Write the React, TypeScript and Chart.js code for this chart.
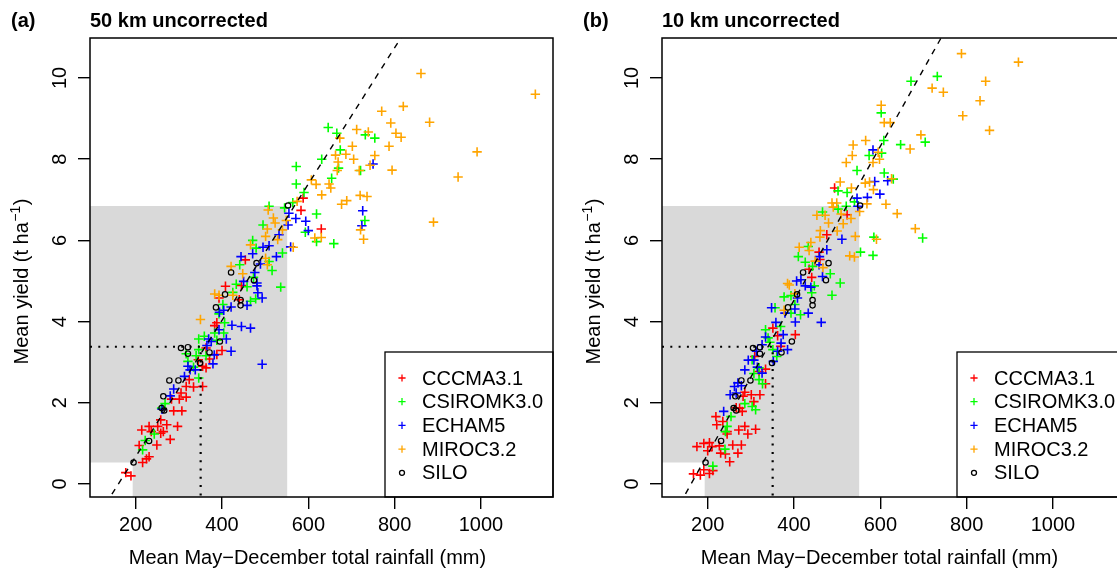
import React, { useEffect, useRef } from "react";
import { Chart, registerables } from "chart.js";

Chart.register(...registerables);

const FONT = '"Liberation Sans", Arial, Helvetica, sans-serif';

// ---------- axes ----------
const xTicks = [200, 400, 600, 800, 1000];
const yTicks = [0, 2, 4, 6, 8, 10];
const xLimits = [94.1, 1166.9];
const yLimits = [-0.32, 10.985];

const seriesNames = ["CCCMA3.1", "CSIROMK3.0", "ECHAM5", "MIROC3.2", "SILO"];
const seriesColors = ["#FF0000", "#00FF00", "#0000FF", "#FFA500", "#000000"];

const xAxisTitle = "Mean May\u2212December total rainfall (mm)";
const yAxisTitleMain = "Mean yield (t ha";
const yAxisTitleSup = "\u22121";
const yAxisTitleEnd = ")";

// shaded region (x: notch edge, right edge ; y: notch top, top edge)
const shadeX = [193, 551];
const shadeY = [0.53, 6.85];
// dotted reference point
const refX = 350.5;
const refY = 3.38;

// observed SILO (same in both panels)
const siloX = [195, 231, 260, 266, 264, 278, 299, 305, 321, 321, 349, 371, 395, 386, 407, 443, 443, 474, 421, 480, 553];
const siloY = [0.53, 1.06, 1.87, 1.81, 2.16, 2.55, 2.55, 3.35, 3.37, 3.21, 2.98, 3.24, 3.51, 4.35, 4.67, 4.53, 4.40, 5.02, 5.21, 5.44, 6.86];

// ---------- panel (a) 50 km ----------
const aTag = "(a)";
const aTitle = "50 km uncorrected";
const aDashX = [130, 827];
const aDashY = [-0.5, 11.2];
const aCccmaX = [588, 583, 630, 454, 408, 445, 440, 393, 388, 383, 400, 388, 371, 363, 345, 355, 363, 334, 355, 317, 324, 305, 317, 301, 283, 288, 307, 297, 280, 272, 258, 251, 264, 258, 231, 214, 236, 249, 208, 216, 231, 177, 189, 225];
const aCccmaY = [7.04, 6.74, 6.28, 5.52, 4.87, 4.89, 4.54, 4.58, 3.97, 3.90, 3.29, 3.19, 3.08, 3.35, 3.06, 2.90, 2.86, 2.39, 2.40, 2.40, 2.57, 2.24, 2.14, 2.09, 2.09, 1.80, 1.80, 1.42, 1.10, 1.46, 1.58, 1.42, 1.29, 1.25, 1.42, 1.33, 1.29, 0.96, 0.95, 0.53, 0.67, 0.28, 0.20, 0.62];
const aCsiroX = [646, 666, 732, 754, 674, 631, 572, 572, 670, 721, 654, 590, 564, 509, 545, 619, 731, 593, 619, 659, 495, 471, 479, 540, 509, 516, 441, 473, 433, 536, 458, 425, 466, 478, 402, 393, 406, 383, 404, 346, 359, 388, 346, 317, 340, 363, 321, 346, 334, 268, 260, 243, 216, 222];
const aCsiroY = [8.78, 8.64, 8.60, 8.52, 8.23, 8.0, 7.82, 7.39, 7.78, 7.72, 7.53, 7.18, 6.93, 6.84, 6.80, 6.65, 6.49, 6.20, 5.97, 5.92, 6.38, 6.0, 5.81, 5.69, 5.48, 5.26, 5.40, 5.09, 4.92, 4.85, 4.86, 4.72, 4.50, 4.56, 4.42, 4.19, 3.97, 3.72, 3.72, 3.57, 3.64, 3.54, 3.31, 3.21, 3.16, 3.16, 3.02, 2.61, 2.88, 1.98, 1.87, 1.23, 0.84, 1.07];
const aEchamX = [750, 726, 724, 571, 594, 600, 553, 555, 532, 509, 495, 559, 526, 471, 444, 489, 476, 450, 481, 481, 483, 493, 458, 421, 404, 394, 423, 445, 466, 393, 410, 375, 369, 365, 382, 421, 493, 379, 321, 326, 338, 313, 288, 280, 261];
const aEchamY = [7.88, 6.73, 6.36, 6.54, 6.47, 6.24, 6.38, 6.67, 6.14, 5.87, 5.83, 5.84, 5.60, 5.67, 5.60, 5.42, 5.21, 4.99, 4.95, 4.88, 4.71, 4.58, 4.40, 4.36, 4.28, 4.23, 3.91, 3.88, 3.84, 3.80, 3.57, 3.51, 3.57, 3.41, 3.18, 3.27, 2.95, 2.96, 2.90, 2.81, 2.81, 2.65, 2.34, 2.17, 1.84];
const aMirocX = [861, 1126, 820, 770, 791, 881, 712, 739, 803, 815, 673, 787, 702, 663, 687, 754, 991, 705, 669, 743, 667, 718, 794, 607, 618, 648, 652, 947, 631, 720, 736, 689, 677, 574, 890, 721, 728, 615, 630, 507, 519, 523, 505, 540, 549, 501, 529, 565, 466, 501, 505, 421, 448, 383, 393, 425, 350];
const aMirocY = [10.11, 9.6, 9.30, 9.18, 8.89, 8.91, 8.73, 8.67, 8.64, 8.54, 8.52, 8.32, 8.32, 8.10, 8.12, 8.09, 8.18, 8.0, 7.93, 7.85, 7.72, 7.72, 7.73, 7.49, 7.38, 7.39, 7.29, 7.56, 7.12, 7.11, 7.08, 6.98, 6.89, 6.96, 6.45, 6.26, 6.03, 6.06, 6.07, 6.75, 6.55, 6.43, 6.28, 6.26, 6.49, 6.10, 6.02, 5.83, 5.89, 5.56, 5.40, 5.36, 5.18, 4.68, 4.65, 4.65, 4.05];

// ---------- panel (b) 10 km ----------
const bTag = "(b)";
const bTitle = "10 km uncorrected";
const bDashX = [135, 752];
const bDashY = [-0.5, 11.2];
const bCccmaX = [494, 523, 476, 458, 460, 435, 441, 403, 369, 351, 362, 309, 334, 319, 334, 286, 282, 301, 321, 307, 280, 274, 266, 219, 221, 235, 245, 272, 286, 311, 293, 245, 175, 191, 204, 200, 210, 227, 258, 278, 270, 230, 241, 251, 167, 183, 191, 212, 204];
const bCccmaY = [7.29, 6.63, 6.14, 5.71, 5.53, 5.29, 5.09, 3.68, 3.39, 3.84, 3.65, 3.14, 2.83, 2.77, 2.47, 2.26, 2.16, 2.20, 2.20, 2.03, 1.79, 1.87, 1.88, 1.66, 1.46, 1.54, 1.29, 1.33, 1.42, 1.35, 1.23, 1.23, 0.92, 1.0, 1.02, 0.82, 0.92, 0.94, 0.96, 0.96, 0.76, 0.76, 0.74, 0.55, 0.25, 0.22, 0.35, 0.33, 0.26];
const bCsiroX = [671, 732, 602, 647, 704, 608, 574, 603, 546, 609, 630, 502, 523, 466, 502, 521, 540, 585, 698, 554, 583, 433, 410, 426, 443, 484, 507, 447, 488, 441, 377, 393, 402, 415, 393, 356, 369, 334, 340, 344, 351, 360, 319, 307, 319, 327, 286, 303, 311, 254, 245, 241, 240, 212, 303];
const bCsiroY = [9.92, 10.04, 9.14, 8.36, 8.42, 8.46, 8.09, 8.15, 7.72, 7.66, 7.51, 7.22, 7.18, 6.70, 6.77, 6.84, 6.95, 6.08, 6.06, 5.71, 5.63, 5.85, 5.60, 5.46, 5.36, 5.18, 4.95, 4.88, 4.65, 4.71, 4.61, 4.64, 4.42, 4.17, 4.21, 4.34, 3.88, 3.80, 3.60, 3.49, 3.31, 3.14, 2.86, 2.72, 2.57, 2.47, 1.98, 1.91, 1.83, 1.66, 1.42, 1.29, 0.86, 0.44, 3.06];
const bEchamX = [583, 587, 617, 599, 570, 546, 548, 511, 476, 459, 458, 466, 406, 416, 426, 439, 408, 433, 463, 402, 379, 348, 358, 403, 375, 370, 385, 334, 326, 313, 307, 294, 315, 286, 326, 270, 262, 278, 252, 266, 237, 352, 362];
const bEchamY = [8.23, 7.45, 7.47, 7.14, 7.06, 7.04, 6.84, 6.03, 5.77, 5.60, 5.40, 5.11, 5.0, 5.03, 4.88, 4.85, 4.58, 4.21, 3.98, 4.31, 4.21, 4.34, 3.98, 3.99, 3.68, 3.47, 3.31, 3.62, 3.43, 3.27, 3.05, 3.05, 2.88, 2.81, 2.73, 2.49, 2.40, 2.42, 2.20, 2.24, 1.79, 3.02, 3.27];
const bMirocX = [788, 920, 844, 720, 746, 831, 791, 853, 602, 609, 623, 694, 566, 537, 669, 535, 595, 598, 521, 583, 626, 507, 565, 575, 533, 584, 488, 499, 491, 569, 613, 552, 639, 453, 472, 509, 532, 480, 514, 461, 500, 460, 542, 681, 591, 412, 439, 435, 529, 540, 449, 467, 389, 385, 402, 377];
const bMirocY = [10.60, 10.39, 9.92, 9.75, 9.65, 9.44, 9.07, 8.71, 9.33, 8.90, 8.90, 8.60, 8.46, 8.35, 8.25, 8.09, 8.17, 8.0, 7.92, 7.92, 7.52, 7.44, 7.41, 7.44, 7.29, 7.25, 6.92, 6.92, 6.82, 6.90, 6.89, 6.71, 6.66, 6.62, 6.62, 6.65, 6.54, 6.43, 6.41, 6.24, 6.23, 6.08, 6.10, 6.29, 6.03, 5.83, 5.95, 5.75, 5.62, 5.59, 5.49, 5.33, 4.90, 4.94, 4.69, 4.28];

// ---------- helpers ----------
const zip = (xs: number[], ys: number[]) => xs.map((x, i) => ({ x, y: ys[i] }));

type PanelDef = {
  tag: string;
  title: string;
  dashX: number[];
  dashY: number[];
  models: { xs: number[]; ys: number[] }[];
};

const panels: PanelDef[] = [
  {
    tag: aTag,
    title: aTitle,
    dashX: aDashX,
    dashY: aDashY,
    models: [
      { xs: aCccmaX, ys: aCccmaY },
      { xs: aCsiroX, ys: aCsiroY },
      { xs: aEchamX, ys: aEchamY },
      { xs: aMirocX, ys: aMirocY },
    ],
  },
  {
    tag: bTag,
    title: bTitle,
    dashX: bDashX,
    dashY: bDashY,
    models: [
      { xs: bCccmaX, ys: bCccmaY },
      { xs: bCsiroX, ys: bCsiroY },
      { xs: bEchamX, ys: bEchamY },
      { xs: bMirocX, ys: bMirocY },
    ],
  },
];

const CANVAS_W = 572;
const CANVAS_H = 568;

function drawPlus(ctx: CanvasRenderingContext2D, x: number, y: number, r: number) {
  ctx.beginPath();
  ctx.moveTo(x - r, y);
  ctx.lineTo(x + r, y);
  ctx.moveTo(x, y - r);
  ctx.lineTo(x, y + r);
  ctx.stroke();
}

function makeDecor(def: PanelDef) {
  return {
    id: "decor",
    beforeDatasetsDraw(chart: any) {
      const { ctx, chartArea: ca, scales } = chart;
      const xs = scales.x;
      const ys = scales.y;
      const xn = xs.getPixelForValue(shadeX[0]);
      const xr = xs.getPixelForValue(shadeX[1]);
      const yn = ys.getPixelForValue(shadeY[0]);
      const yt = ys.getPixelForValue(shadeY[1]);
      ctx.save();
      ctx.fillStyle = "#D9D9D9";
      ctx.beginPath();
      ctx.moveTo(ca.left, yt);
      ctx.lineTo(xr, yt);
      ctx.lineTo(xr, ca.bottom);
      ctx.lineTo(xn, ca.bottom);
      ctx.lineTo(xn, yn);
      ctx.lineTo(ca.left, yn);
      ctx.closePath();
      ctx.fill();
      ctx.restore();
    },
    afterDatasetsDraw(chart: any) {
      const { ctx, chartArea: ca } = chart;
      ctx.save();
      // legend (bottom right)
      const lw = 168;
      const lh = 145;
      const lx = ca.right - lw;
      const ly = ca.bottom - lh;
      ctx.fillStyle = "#FFFFFF";
      ctx.fillRect(lx, ly, lw, lh);
      ctx.strokeStyle = "#000";
      ctx.lineWidth = 1.3;
      ctx.strokeRect(lx, ly, lw, lh);
      ctx.font = `20px ${FONT}`;
      ctx.textBaseline = "middle";
      ctx.textAlign = "left";
      seriesNames.forEach((name, i) => {
        const cy = ly + 26 + i * 23.7;
        const sx = lx + 17;
        ctx.strokeStyle = seriesColors[i];
        ctx.lineWidth = 1.3;
        if (i < 4) {
          drawPlus(ctx, sx, cy, 3.6);
        } else {
          ctx.beginPath();
          ctx.arc(sx, cy, 2.5, 0, Math.PI * 2);
          ctx.stroke();
        }
        ctx.fillStyle = "#000";
        ctx.fillText(name, lx + 37, cy + 1);
      });
      // plot box
      ctx.strokeStyle = "#000";
      ctx.lineWidth = 1.5;
      ctx.strokeRect(ca.left, ca.top, ca.right - ca.left, ca.bottom - ca.top);
      ctx.restore();
    },
    afterDraw(chart: any) {
      const { ctx, chartArea: ca } = chart;
      ctx.save();
      ctx.fillStyle = "#000";
      // panel tag and title
      ctx.font = `bold 20px ${FONT}`;
      ctx.textAlign = "left";
      ctx.textBaseline = "alphabetic";
      ctx.fillText(def.tag, ca.left - 79, 26.5);
      ctx.fillText(def.title, ca.left, 26.5);
      // x axis title
      ctx.font = `20px ${FONT}`;
      ctx.textAlign = "center";
      ctx.fillText(xAxisTitle, ca.left + 217.5, 564);
      // y axis title with superscript
      ctx.save();
      ctx.translate(28, ca.top + 243.5);
      ctx.rotate(-Math.PI / 2);
      ctx.textAlign = "left";
      ctx.font = `20px ${FONT}`;
      const w1 = ctx.measureText(yAxisTitleMain).width;
      const w3 = ctx.measureText(yAxisTitleEnd).width;
      ctx.font = `14px ${FONT}`;
      const w2 = ctx.measureText(yAxisTitleSup).width;
      const total = w1 + w2 + w3 + 1;
      let px = -total / 2;
      ctx.font = `20px ${FONT}`;
      ctx.fillText(yAxisTitleMain, px, 0);
      px += w1 + 0.5;
      ctx.font = `14px ${FONT}`;
      ctx.fillText(yAxisTitleSup, px, -8);
      px += w2 + 0.5;
      ctx.font = `20px ${FONT}`;
      ctx.fillText(yAxisTitleEnd, px, 0);
      ctx.restore();
      ctx.restore();
    },
  };
}

function buildConfig(def: PanelDef): any {
  const modelSets = def.models.map((m, i) => ({
    label: seriesNames[i],
    data: zip(m.xs, m.ys),
    pointStyle: "cross",
    pointRadius: 4.7,
    pointBorderWidth: 1.6,
    borderColor: seriesColors[i],
    backgroundColor: seriesColors[i],
    showLine: false,
    order: 10 - i,
  }));
  const silo = {
    label: seriesNames[4],
    data: zip(siloX, siloY),
    pointStyle: "circle",
    pointRadius: 2.7,
    pointBorderWidth: 1.2,
    borderColor: "#000",
    backgroundColor: "rgba(0,0,0,0)",
    showLine: false,
    order: 4,
  };
  const dotted = {
    label: "ref",
    data: [
      { x: xLimits[0], y: refY },
      { x: refX, y: refY },
      { x: refX, y: yLimits[0] },
    ],
    showLine: true,
    borderColor: "#000",
    borderWidth: 2.2,
    borderDash: [2, 6.3],
    pointRadius: 0,
    fill: false,
    tension: 0,
    clip: 0,
    order: 2,
  };
  const dashed = {
    label: "limit",
    data: zip(def.dashX, def.dashY),
    showLine: true,
    borderColor: "#000",
    borderWidth: 1.4,
    borderDash: [6, 6],
    pointRadius: 0,
    fill: false,
    tension: 0,
    clip: 0,
    order: 1,
  };
  const tickFont = { family: FONT, size: 20 };
  return {
    type: "scatter",
    data: { datasets: [...modelSets, silo, dotted, dashed] },
    options: {
      responsive: false,
      animation: false,
      events: [],
      layout: { padding: { top: 38, right: CANVAS_W - 553, left: 0, bottom: 0 } },
      plugins: {
        legend: { display: false },
        tooltip: { enabled: false },
        title: { display: false },
      },
      scales: {
        x: {
          type: "linear",
          position: "bottom",
          min: xLimits[0],
          max: xLimits[1],
          afterBuildTicks: (s: any) => {
            s.ticks = xTicks.map((v) => ({ value: v }));
          },
          afterFit: (s: any) => {
            s.height = 71;
          },
          ticks: {
            font: tickFont,
            color: "#000",
            padding: 4,
            minRotation: 0,
            maxRotation: 0,
            autoSkip: false,
            callback: (v: any) => String(v),
          },
          grid: {
            display: true,
            drawOnChartArea: false,
            drawTicks: true,
            tickLength: 12,
            color: "#000",
            lineWidth: 1.4,
          },
          border: { display: false },
          title: { display: false },
        },
        y: {
          type: "linear",
          position: "left",
          min: yLimits[0],
          max: yLimits[1],
          afterBuildTicks: (s: any) => {
            s.ticks = yTicks.map((v) => ({ value: v }));
          },
          afterFit: (s: any) => {
            s.width = 90;
          },
          ticks: {
            font: tickFont,
            color: "#000",
            padding: 6,
            minRotation: 90,
            maxRotation: 90,
            crossAlign: "center",
            autoSkip: false,
            callback: (v: any) => String(v),
          },
          grid: {
            display: true,
            drawOnChartArea: false,
            drawTicks: true,
            tickLength: 12,
            color: "#000",
            lineWidth: 1.4,
          },
          border: { display: false },
          title: { display: false },
        },
      },
    },
    plugins: [makeDecor(def)],
  };
}

function Panel({ def, left }: { def: PanelDef; left: number }) {
  const ref = useRef<HTMLCanvasElement>(null);
  useEffect(() => {
    if (!ref.current) return;
    const chart = new Chart(ref.current, buildConfig(def));
    return () => chart.destroy();
  }, [def]);
  return (
    <canvas
      ref={ref}
      width={CANVAS_W}
      height={CANVAS_H}
      style={{ position: "absolute", left, top: 0, width: CANVAS_W, height: CANVAS_H }}
    />
  );
}

export default function App() {
  return (
    <div
      style={{
        position: "fixed",
        left: 0,
        top: 0,
        width: 1117,
        height: 568,
        overflow: "hidden",
        background: "#FFFFFF",
      }}
    >
      <Panel def={panels[0]} left={0} />
      <Panel def={panels[1]} left={572} />
    </div>
  );
}
